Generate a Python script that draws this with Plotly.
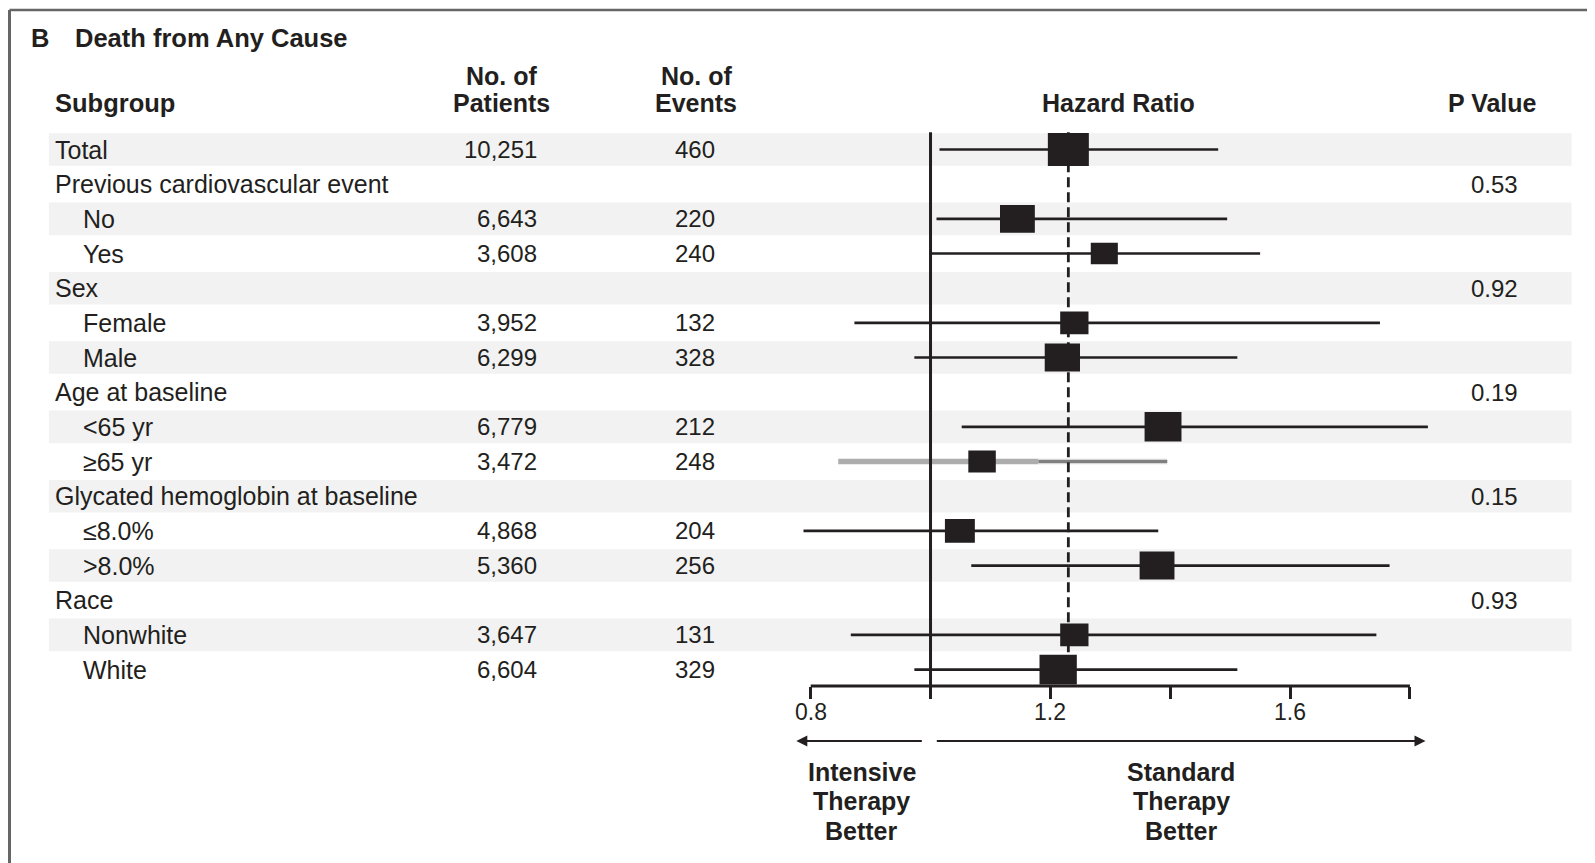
import plotly.graph_objects as go

# ---------------- data ----------------
labels = ["Total", "Previous cardiovascular event", "No", "Yes", "Sex", "Female", "Male",
          "Age at baseline", "<65 yr", "≥65 yr", "Glycated hemoglobin at baseline",
          "≤8.0%", ">8.0%", "Race", "Nonwhite", "White"]
is_subitem = [False, False, True, True, False, True, True, False, True, True,
              False, True, True, False, True, True]
n_patients = ["10,251", "", "6,643", "3,608", "", "3,952", "6,299", "", "6,779", "3,472",
              "", "4,868", "5,360", "", "3,647", "6,604"]
n_events = ["460", "", "220", "240", "", "132", "328", "", "212", "248",
            "", "204", "256", "", "131", "329"]
p_values = ["", "0.53", "", "", "0.92", "", "", "0.19", "", "",
            "0.15", "", "", "0.93", "", ""]
hazard_ratio = [1.23, None, 1.145, 1.29, None, 1.24, 1.22, None, 1.388, 1.086,
                None, 1.049, 1.378, None, 1.24, 1.213]
ci_lower = [1.015, None, 1.01, 1.0, None, 0.873, 0.973, None, 1.052, 0.846,
            None, 0.788, 1.068, None, 0.867, 0.973]
ci_upper = [1.48, None, 1.495, 1.55, None, 1.75, 1.512, None, 1.83, 1.395,
            None, 1.38, 1.766, None, 1.744, 1.512]
box_weight = [1.0, None, 0.85, 0.66, None, 0.69, 0.86, None, 0.90, 0.67,
              None, 0.73, 0.85, None, 0.69, 0.91]
grey_rows = ["≥65 yr"]          # row whose CI is printed in grey in the original
grey_split = 1.18               # where the grey CI changes tone in the original
tick_values = [0.8, 1.0, 1.2, 1.4, 1.6, 1.8]
tick_labels = ["0.8", "", "1.2", "", "1.6", ""]
null_value = 1.0
left_label = ["Intensive", "Therapy", "Better"]
right_label = ["Standard", "Therapy", "Better"]

# ---------------- layout constants ----------------
OFF = 8                          # default page margin of the html body
W, H = 1595 - OFF, 863 - OFF
INK = "#231f20"
BAND = "#f2f2f2"
FONT = "Liberation Sans, Arial, Helvetica, sans-serif"

X_RANGE = [0.7, 1.9]
X_PX = (750.75, 1469.85)          # window-pixel span of the forest x-axis range
ROW0_PX, ROW_STEP, AXIS_PX = 149.5, 34.67, 686.0
Y_TOP = (OFF - ROW0_PX) / ROW_STEP
Y_BOTTOM = (AXIS_PX - ROW0_PX) / ROW_STEP
PX_PER_UNIT = (X_PX[1] - X_PX[0]) / (X_RANGE[1] - X_RANGE[0])
BOX_H_PX = 32.8
BOX_ASPECT = 1.25


def px_x(p):
    return (p - OFF) / W


def px_y(p):
    return 1 - (p - OFF) / H


rows = list(range(len(labels)))
fig = go.Figure()

# whiskers (black)
wx, wy = [], []
for i in rows:
    if hazard_ratio[i] is None or labels[i] in grey_rows:
        continue
    wx += [ci_lower[i], ci_upper[i], None]
    wy += [i, i, None]
fig.add_trace(go.Scatter(x=wx, y=wy, mode="lines", line=dict(color=INK, width=2.7),
                         hoverinfo="skip", showlegend=False))

# grey whisker(s)
for i in rows:
    if labels[i] in grey_rows and hazard_ratio[i] is not None:
        fig.add_trace(go.Scatter(x=[ci_lower[i], grey_split], y=[i, i], mode="lines",
                                 line=dict(color="#adadad", width=5.5),
                                 hoverinfo="skip", showlegend=False))
        fig.add_trace(go.Scatter(x=[grey_split, ci_upper[i]], y=[i, i], mode="lines",
                                 line=dict(color="#d6d6d6", width=5.5),
                                 hoverinfo="skip", showlegend=False))
        fig.add_trace(go.Scatter(x=[grey_split, ci_upper[i]], y=[i, i], mode="lines",
                                 line=dict(color="#808080", width=3),
                                 hoverinfo="skip", showlegend=False))

# reference lines: null effect and overall hazard ratio
fig.add_trace(go.Scatter(x=[null_value, null_value], y=[-0.5, Y_BOTTOM], mode="lines",
                         line=dict(color=INK, width=3), hoverinfo="skip", showlegend=False))
fig.add_trace(go.Scatter(x=[hazard_ratio[0], hazard_ratio[0]], y=[-0.5, Y_BOTTOM], mode="lines",
                         line=dict(color=INK, width=2.8, dash="10px,5px"),
                         hoverinfo="skip", showlegend=False))

# boxes (rectangles centred on each hazard ratio)
bx, by = [], []
for i in rows:
    if hazard_ratio[i] is None:
        continue
    h_px = BOX_H_PX * box_weight[i]
    dx = BOX_ASPECT * h_px / 2 / PX_PER_UNIT
    dy = h_px / 2 / ROW_STEP
    hr = hazard_ratio[i]
    bx += [hr - dx, hr + dx, hr + dx, hr - dx, hr - dx, None]
    by += [i - dy, i - dy, i + dy, i + dy, i - dy, None]
fig.add_trace(go.Scatter(x=bx, y=by, mode="lines", fill="toself", fillcolor=INK,
                         line=dict(color=INK, width=0), hoverinfo="skip", showlegend=False))

shapes = []
# alternating shaded bands
for i in rows:
    if i % 2 == 0:
        shapes.append(dict(type="rect", xref="paper", yref="y", x0=px_x(48.8), x1=px_x(1571.6),
                           y0=i - 0.47, y1=i + 0.47, fillcolor=BAND, line=dict(width=0),
                           layer="below"))
# axis baseline spanning the first to last tick
shapes.append(dict(type="line", xref="x", yref="paper", x0=tick_values[0], x1=tick_values[-1],
                   y0=px_y(AXIS_PX), y1=px_y(AXIS_PX), line=dict(color=INK, width=3)))
# panel frame (top and left)
shapes.append(dict(type="line", xref="paper", yref="paper", x0=px_x(9.5), x1=1,
                   y0=px_y(10), y1=px_y(10), line=dict(color="#666666", width=2.5)))
shapes.append(dict(type="line", xref="paper", yref="paper", x0=px_x(9.5), x1=px_x(9.5),
                   y0=px_y(10), y1=0, line=dict(color="#666666", width=3)))

ann = []


def text(x, y, s, size=25, bold=False, xanchor="left", yref="paper", xref="paper"):
    ann.append(dict(x=x, y=y, xref=xref, yref=yref, text=s, showarrow=False,
                    xanchor=xanchor, yanchor="middle",
                    font=dict(family=FONT, size=size, color=INK,
                              weight="bold" if bold else "normal")))


# title
text(px_x(29), px_y(38), "B", size=25.5, bold=True)
text(px_x(73), px_y(38), "Death from Any Cause", size=25.5, bold=True)
# column headers
text(px_x(53), px_y(103), "Subgroup", size=25.5, bold=True)
text(px_x(501), px_y(75.5), "No. of", size=25, bold=True, xanchor="center")
text(px_x(501), px_y(103), "Patients", size=25, bold=True, xanchor="center")
text(px_x(696), px_y(75.5), "No. of", size=25, bold=True, xanchor="center")
text(px_x(696), px_y(103), "Events", size=25, bold=True, xanchor="center")
text(px_x(1118), px_y(103), "Hazard Ratio", size=25, bold=True, xanchor="center")
text(px_x(1492), px_y(103), "P Value", size=25, bold=True, xanchor="center")

# table body
for i in rows:
    text(px_x(81 if is_subitem[i] else 53), i, labels[i], size=25, yref="y")
    if n_patients[i]:
        text(px_x(539), i, n_patients[i], size=24, xanchor="right", yref="y")
    if n_events[i]:
        text(px_x(717), i, n_events[i], size=24, xanchor="right", yref="y")
    if p_values[i]:
        text(px_x(1520), i, p_values[i], size=24, xanchor="right", yref="y")

# x tick labels (placed under the ticks of the forest axis)
for v, lab in zip(tick_values, tick_labels):
    if lab:
        text(v, px_y(712), lab, size=23, xanchor="center", xref="x")

# direction labels
for j, (a, b) in enumerate(zip(left_label, right_label)):
    ypx = [771.5, 800.5, 830.5][j]
    text(px_x(861.5), px_y(ypx), a, size=25, bold=True, xanchor="center")
    text(px_x(1181), px_y(ypx), b, size=25, bold=True, xanchor="center")

# direction arrows
for head, tail in [(0.776, null_value - 0.012), (1.826, null_value + 0.008)]:
    ann.append(dict(x=head, y=px_y(741), ax=tail, ay=0, xref="x", yref="paper",
                    axref="x", ayref="pixel", showarrow=True, arrowhead=2, arrowsize=1.0,
                    arrowwidth=2.2, arrowcolor=INK, text=""))

fig.update_layout(
    width=W, height=H, margin=dict(l=0, r=0, t=0, b=0),
    paper_bgcolor="white", plot_bgcolor="rgba(0,0,0,0)",
    shapes=shapes, annotations=ann, showlegend=False,
    xaxis=dict(domain=[px_x(X_PX[0]), px_x(X_PX[1])], range=X_RANGE, showgrid=False,
               zeroline=False, showline=False, tickmode="array", tickvals=tick_values,
               ticktext=tick_labels, ticks="outside", ticklen=12, tickwidth=3,
               tickcolor=INK, showticklabels=False, fixedrange=True),
    yaxis=dict(domain=[px_y(AXIS_PX), 1], range=[Y_BOTTOM, Y_TOP], showgrid=False,
               zeroline=False, showline=False, showticklabels=False, ticks="",
               fixedrange=True),
)

fig.write_html("out.html")
